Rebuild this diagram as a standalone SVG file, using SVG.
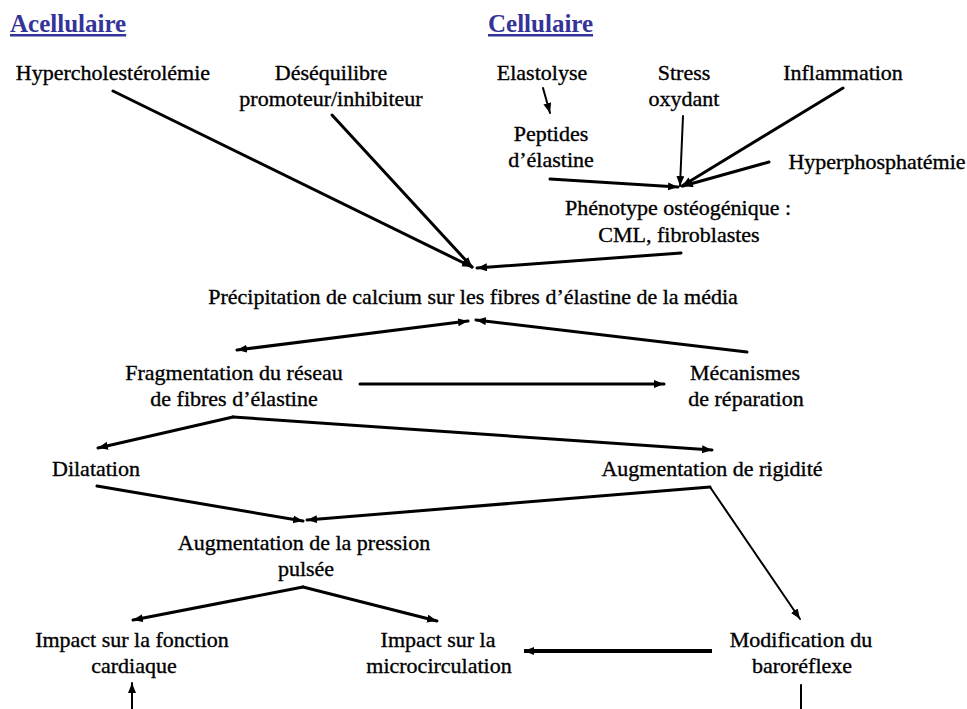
<svg xmlns="http://www.w3.org/2000/svg" width="967" height="709" viewBox="0 0 967 709">
<defs>
<style>
.t{font-family:"Liberation Serif","Times New Roman",serif;font-size:22px;fill:#000;text-anchor:middle;stroke:#000;stroke-width:0.35}
.h{font-family:"Liberation Serif","Times New Roman",serif;font-size:25px;font-weight:bold;fill:#333399;text-decoration:underline}
.c{fill:none;stroke:#000;stroke-width:3;stroke-linecap:round}
.c2{fill:none;stroke:#000;stroke-width:2;stroke-linecap:round}
.a{marker-end:url(#ah)}
</style>
<marker id="ah" markerUnits="userSpaceOnUse" markerWidth="11" markerHeight="9" refX="10" refY="4" orient="auto-start-reverse" viewBox="0 0 11 9">
<path d="M0,0 L10,4 L0,8 z" fill="#000"/>
</marker>
</defs>
<rect width="967" height="709" fill="#fff"/>

<text class="h" x="10" y="32">Acellulaire</text>
<text class="h" x="488" y="32">Cellulaire</text>

<g id="hyperchol"><text class="t" x="113" y="80">Hypercholestérolémie</text></g>
<g id="desequilibre"><text class="t" x="331" y="80">Déséquilibre</text><text class="t" x="331" y="106">promoteur/inhibiteur</text></g>
<g id="elastolyse"><text class="t" x="542" y="80">Elastolyse</text></g>
<g id="stress"><text class="t" x="684" y="80">Stress</text><text class="t" x="684" y="106">oxydant</text></g>
<g id="inflammation"><text class="t" x="843" y="80">Inflammation</text></g>
<g id="peptides"><text class="t" x="551" y="141">Peptides</text><text class="t" x="551" y="167">d’élastine</text></g>
<g id="hyperphos"><text class="t" x="877" y="169">Hyperphosphatémie</text></g>
<g id="phenotype"><text class="t" x="678" y="215">Phénotype ostéogénique :</text><text class="t" x="679" y="242">CML, fibroblastes</text></g>
<g id="precipitation"><text class="t" x="473" y="304">Précipitation de calcium sur les fibres d’élastine de la média</text></g>
<g id="fragmentation"><text class="t" x="234" y="380">Fragmentation du réseau</text><text class="t" x="234" y="406">de fibres d’élastine</text></g>
<g id="mecanismes"><text class="t" x="745" y="380">Mécanismes</text><text class="t" x="746" y="406">de réparation</text></g>
<g id="dilatation"><text class="t" x="96" y="476">Dilatation</text></g>
<g id="rigidite"><text class="t" x="712" y="476">Augmentation de rigidité</text></g>
<g id="pression"><text class="t" x="304" y="550">Augmentation de la pression</text><text class="t" x="306" y="576">pulsée</text></g>
<g id="cardiaque"><text class="t" x="132" y="647">Impact sur la fonction</text><text class="t" x="134" y="673">cardiaque</text></g>
<g id="microcirculation"><text class="t" x="438" y="647">Impact sur la</text><text class="t" x="439" y="673">microcirculation</text></g>
<g id="baroreflexe"><text class="t" x="801" y="647">Modification du</text><text class="t" x="802" y="673">baroréflexe</text></g>

<g id="connectors">
<line class="c a" x1="113" y1="91" x2="472" y2="267"/>
<line class="c a" x1="332" y1="115" x2="472" y2="267"/>
<line class="c a" x1="681" y1="253" x2="477" y2="268"/>
<line class="c2 a" x1="543" y1="88" x2="550" y2="113"/>
<line class="c2 a" x1="683" y1="116" x2="680" y2="186"/>
<line class="c a" x1="843" y1="88" x2="682" y2="186"/>
<line class="c a" x1="769" y1="162" x2="683" y2="186"/>
<line class="c a" x1="550" y1="179" x2="678" y2="187"/>
<line class="c a" x1="237" y1="350" x2="468" y2="321" marker-start="url(#ah)"/>
<line class="c a" x1="747" y1="352" x2="476" y2="320"/>
<line class="c a" x1="360" y1="384" x2="664" y2="384"/>
<polyline class="c a" points="233,417 98,448"/>
<polyline class="c a" points="233,417 712,450"/>
<line class="c a" x1="97" y1="486" x2="303" y2="521"/>
<line class="c a" x1="710" y1="487" x2="307" y2="520"/>
<line class="c2 a" x1="710" y1="487" x2="800" y2="619"/>
<line class="c a" x1="303" y1="587" x2="133" y2="620"/>
<line class="c a" x1="303" y1="587" x2="437" y2="621"/>
<line fill="none" stroke="#000" stroke-width="4" marker-end="url(#ah)" x1="712" y1="651" x2="524" y2="651"/>
<line class="c2 a" x1="132" y1="709" x2="132" y2="683"/>
<line class="c2" x1="801" y1="685" x2="801" y2="709"/>
</g>
</svg>
